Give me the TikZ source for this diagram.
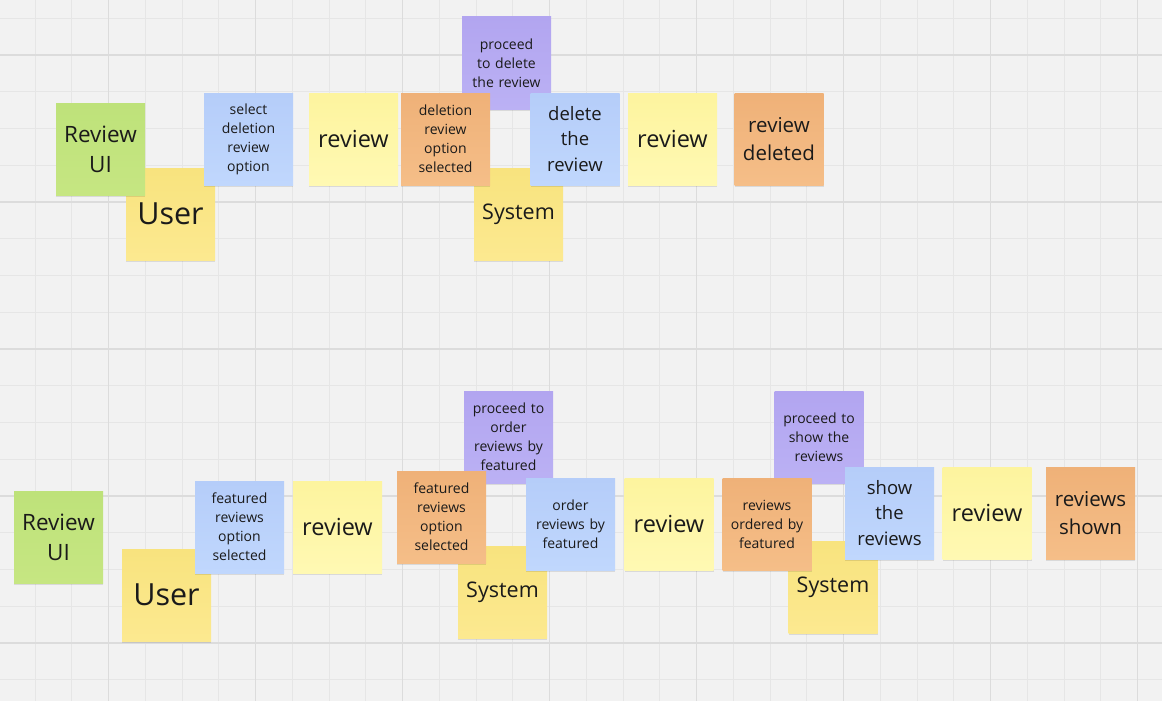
\documentclass[tikz,border=0pt]{standalone}
\usepackage{fontspec}
\setmainfont{Open Sans}
\usetikzlibrary{shadows}
\definecolor{bgc}{HTML}{F2F2F2}
\definecolor{gridminor}{HTML}{E6E6E6}
\definecolor{gridmajor}{HTML}{DCDCDC}
\definecolor{txt}{HTML}{1A1A1A}
\definecolor{greenT}{HTML}{BEE27A}\definecolor{greenB}{HTML}{C6E682}
\definecolor{yelT}{HTML}{F8E37E}\definecolor{yelB}{HTML}{FCE990}
\definecolor{lyelT}{HTML}{FDF49E}\definecolor{lyelB}{HTML}{FFF9B3}
\definecolor{blueT}{HTML}{B5CDF9}\definecolor{blueB}{HTML}{C0D7FD}
\definecolor{oraT}{HTML}{EFB178}\definecolor{oraB}{HTML}{F5BE88}
\definecolor{purT}{HTML}{B2A5F0}\definecolor{purB}{HTML}{BBB1F4}
\begin{document}
\begin{tikzpicture}[x=1pt,y=-1pt,
  sticky/.style={draw=none, minimum width=89pt, minimum height=92pt, inner sep=0pt,
    text width=84pt, align=center, text=txt,
    drop shadow={shadow xshift=0pt, shadow yshift=-2pt, opacity=0.10, fill=black}},
  greenst/.style={sticky, top color=greenT, bottom color=greenB},
  yelst/.style={sticky, top color=yelT, bottom color=yelB},
  lyelst/.style={sticky, top color=lyelT, bottom color=lyelB},
  bluest/.style={sticky, top color=blueT, bottom color=blueB},
  orast/.style={sticky, top color=oraT, bottom color=oraB},
  purst/.style={sticky, top color=purT, bottom color=purB},
  sm/.style={font=\fontsize{14}{19}\selectfont},
  md/.style={font=\fontsize{18.5}{25.7}\selectfont},
  mdl/.style={font=\fontsize{20.5}{28}\selectfont},
  lg/.style={font=\fontsize{22.5}{30}\selectfont},
  revf/.style={font=\fontsize{23.5}{30}\selectfont},
  sysf/.style={font=\fontsize{21.5}{28}\selectfont},
  xl/.style={font=\fontsize{30.5}{36}\selectfont}]
\useasboundingbox (0,0) rectangle (1162,701);
\fill[bgc] (0,0) rectangle (1162,701);
% grid
\foreach \k in {0,...,32} {
  \pgfmathsetmacro{\xx}{-1.75+\k*36.75}
  \draw[gridminor, line width=0.8pt] (\xx,0) -- (\xx,701);
}
\foreach \k in {0,...,19} {
  \pgfmathsetmacro{\yy}{18.25+\k*36.75}
  \draw[gridminor, line width=0.8pt] (0,\yy) -- (1162,\yy);
}
\foreach \k in {0,...,7} {
  \pgfmathsetmacro{\xx}{108.5+\k*147}
  \draw[gridmajor, line width=1.1pt] (\xx,0) -- (\xx,701);
}
\foreach \k in {0,...,4} {
  \pgfmathsetmacro{\yy}{55+\k*147}
  \draw[gridmajor, line width=1.1pt] (0,\yy) -- (1162,\yy);
}
% ---------- top row ----------
\node[yelst, xl] (user1) at (170.5,214) {User};
\node[yelst, sysf] (sys1) at (518.5,214) {System};
\node[purst, sm] (proc1) at (506.5,63) {proceed\\to delete\\the review};
\node[greenst, lg] (ui1) at (100.5,149) {Review\\UI};
\node[bluest, sm] (sel1) at (248.5,139) {select\\deletion\\review\\option};
\node[lyelst, revf] (rev1a) at (353.5,139) {review};
\node[orast, sm] (delsel) at (445.5,139) {deletion\\review\\option\\selected};
\node[bluest, md] (delrev) at (575,139) {delete\\the\\review};
\node[lyelst, revf] (rev1b) at (672.5,139) {review};
\node[orast, mdl] (revdel) at (779,139) {review\\deleted};
% ---------- bottom row ----------
\node[yelst, xl] (user2) at (166.5,595) {User};
\node[yelst, sysf] (sys2) at (502.5,592) {System};
\node[yelst, sysf] (sys3) at (833,587) {System};
\node[purst, sm] (proc2) at (508.5,437) {proceed to\\order\\reviews by\\featured};
\node[purst, sm] (proc3) at (819,437) {proceed to\\show the\\reviews};
\node[greenst, lg] (ui2) at (58.5,537) {Review\\UI};
\node[bluest, sm] (feat) at (239.5,527) {featured\\reviews\\option\\selected};
\node[lyelst, revf] (rev2a) at (337.5,527) {review};
\node[orast, sm] (featsel) at (441.5,517) {featured\\reviews\\option\\selected};
\node[bluest, sm] (order) at (570.5,524) {order\\reviews by\\featured};
\node[lyelst, revf] (rev2b) at (669,524) {review};
\node[orast, sm] (ordered) at (767,524) {reviews\\ordered by\\featured};
\node[bluest, md] (show) at (889.5,513) {show\\the\\reviews};
\node[lyelst, revf] (rev2c) at (987,513) {review};
\node[orast, mdl] (shown) at (1090.5,513) {reviews\\shown};
\end{tikzpicture}
\end{document}
